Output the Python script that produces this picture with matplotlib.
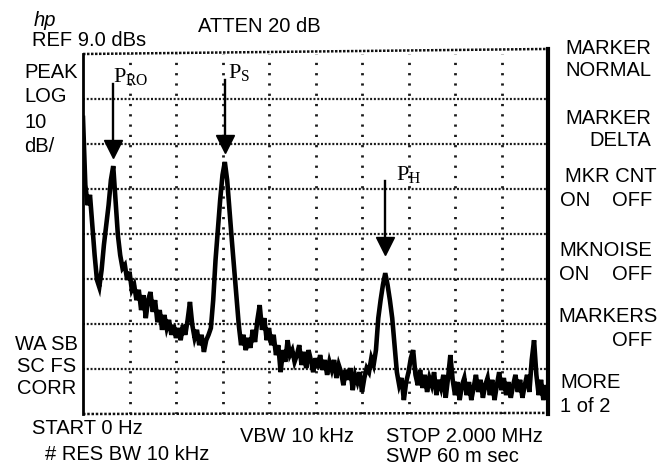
import numpy as np
import matplotlib.pyplot as plt

plt.rcParams['font.family'] = ['Liberation Sans', 'DejaVu Sans']

# analyzer settings shown on screen
START_MHZ = 0.0
STOP_MHZ = 2.0
REF_DB = 9.0
DB_PER_DIV = 10
N_XDIV = 10
N_YDIV = 8

# displayed trace (dB), one sample every 0.01 MHz from 0 to 2 MHz
level = [
    -5.2, -20.1, -24.6, -22.3, -29.0, -35.7, -41.2, -42.8, -39.0, -33.4,
    -29.0, -24.6, -19.0, -15.9, -23.4, -31.2, -35.7, -38.6, -37.9, -41.2,
    -39.4, -43.4, -42.3, -45.7, -43.4, -47.9, -44.6, -49.7, -45.7, -43.9,
    -48.3, -45.7, -50.6, -47.9, -52.3, -49.0, -51.9, -50.1, -53.4, -51.2,
    -54.1, -51.9, -54.6, -51.2, -53.4, -50.1, -46.1, -51.2, -54.1, -52.3,
    -55.7, -53.4, -57.2, -54.6, -53.4, -51.9, -45.7, -36.8, -30.1, -23.4,
    -17.9, -15.0, -19.0, -25.7, -32.3, -38.6, -44.6, -51.2, -55.7, -53.4,
    -56.8, -54.1, -56.3, -52.3, -55.0, -50.1, -46.8, -52.3, -49.7, -54.6,
    -51.9, -55.7, -53.4, -57.9, -55.7, -61.7, -56.8, -59.4, -54.6, -57.9,
    -56.8, -59.4, -57.9, -55.7, -60.1, -57.2, -60.8, -56.8, -59.0, -61.7,
    -58.6, -60.8, -57.9, -61.2, -59.0, -62.3, -59.4, -61.2, -59.0, -63.0,
    -60.1, -61.7, -64.6, -61.2, -63.4, -60.8, -65.7, -62.3, -63.9, -61.7,
    -66.1, -63.0, -60.8, -61.7, -58.6, -60.1, -56.8, -49.7, -45.7, -42.3,
    -39.7, -42.3, -45.7, -49.7, -55.7, -61.7, -64.6, -63.0, -67.9, -63.9,
    -61.7, -58.6, -56.8, -62.3, -64.6, -61.2, -65.2, -62.3, -66.1, -63.0,
    -64.6, -61.7, -66.8, -63.4, -65.2, -62.3, -67.4, -63.0, -57.9, -63.4,
    -66.8, -63.9, -67.9, -64.6, -63.0, -66.8, -63.9, -67.9, -65.2, -62.3,
    -66.1, -63.4, -67.4, -64.6, -63.0, -66.8, -63.4, -67.9, -64.6, -61.7,
    -65.7, -63.0, -66.8, -63.9, -67.4, -64.6, -62.3, -66.1, -63.4, -67.4,
    -64.6, -62.3, -66.1, -59.0, -54.6, -62.3, -66.8, -63.4, -67.9, -64.6,
    -66.8,
]

# peaks pointed at by the arrows
marker_freq = [0.13, 0.61, 1.30]
marker_label = [r'$\mathregular{P_{RO}}$', r'$\mathregular{P_{S}}$', r'$\mathregular{P_{H}}$']

freq = np.linspace(START_MHZ, STOP_MHZ, len(level))
level = np.array(level)
bottom_db = REF_DB - N_YDIV * DB_PER_DIV

W, H = 666, 472
fig = plt.figure(figsize=(W / 100, H / 100), dpi=100)
fig.patch.set_facecolor('white')

# graticule box in pixels: x 83..548, y 54..414
ax = fig.add_axes([83 / W, 1 - 414 / H, 465 / W, 360 / H])
ax.set_xlim(START_MHZ, STOP_MHZ)
ax.set_ylim(bottom_db, REF_DB)
ax.axis('off')

# dotted graticule
xstep = (STOP_MHZ - START_MHZ) / N_XDIV
for k in range(1, N_XDIV):
    ax.axvline(START_MHZ + k * xstep, color='#1a1a1a', lw=2.0,
               ls=(0, (0.8, 2.9)), zorder=1)
for k in range(1, N_YDIV):
    ax.axhline(REF_DB - k * DB_PER_DIV, color='#1a1a1a', lw=1.6,
               ls=(0, (0.9, 0.8)), zorder=1)

# frame: solid left/right, dotted top/bottom (top slightly tilted on the screen)
ax.plot([0, 1], [1, 1.014], transform=ax.transAxes, color='#111111', lw=1.8,
        ls=(0, (1, 0.6)), clip_on=False)
ax.plot([0, 1], [0, 0.003], transform=ax.transAxes, color='#111111', lw=1.8,
        ls=(0, (1, 0.7)), clip_on=False)
ax.plot([0, 0], [0, 1], transform=ax.transAxes, color='black', lw=2.0, clip_on=False)
ax.plot([1, 1], [0, 1.014], transform=ax.transAxes, color='black', lw=3.0, clip_on=False)

# trace
ax.plot(freq, level, color='black', lw=3.3, solid_joinstyle='miter', zorder=3)

# arrows + labels
gap = [2.0, 2.0, 4.2]
dx_lab = [0.0, 0.012, 0.045]
for f, lab, g, dx in zip(marker_freq, marker_label, gap, dx_lab):
    i = int(np.argmin(np.abs(freq - f)))
    tip = level[i] + g
    top = tip + 16.3
    ax.plot([freq[i], freq[i]], [top, tip + 2.5], color='black', lw=1.7,
            clip_on=False, zorder=4)
    ax.plot(freq[i], tip + 1.9, marker='v', ms=12.5, color='black',
            clip_on=False, zorder=4)
    ax.text(freq[i] + dx, top + 0.3, lab, fontsize=16, ha='left', va='baseline',
            family='Liberation Serif', zorder=5)


def px(x, y, s, **kw):
    kw.setdefault('fontsize', 14.5)
    kw.setdefault('va', 'center')
    fig.text(x / W, 1 - y / H, s, **kw)


# header
px(34, 20, 'hp', style='italic')
px(32, 41, 'REF 9.0 dBs')
px(198, 27, 'ATTEN 20 dB')

# left annotations
px(24, 72, 'PEAK')
px(24, 97, 'LOG')
px(24, 122, '10')
px(24, 146, 'dB/')
px(15, 344, 'WA SB')
px(17, 367, 'SC FS')
px(17, 389, 'CORR')

# softkeys on the right
px(565, 48, 'MARKER')
px(565, 71, 'NORMAL')
px(565, 118, 'MARKER')
px(651, 141, 'DELTA', ha='right')
px(565, 177, 'MKR CNT')
px(560, 201, 'ON')
px(652, 201, 'OFF', ha='right')
px(559, 251, 'MKNOISE')
px(559, 274, 'ON')
px(652, 274, 'OFF', ha='right')
px(558, 316, 'MARKERS')
px(652, 340, 'OFF', ha='right')
px(560, 382, 'MORE')
px(560, 406, '1 of 2')

# footer
px(32, 429, 'START 0 Hz')
px(45, 454, '# RES BW 10 kHz')
px(240, 436, 'VBW 10 kHz')
px(386, 436, 'STOP 2.000 MHz')
px(386, 456, 'SWP 60 m sec')

fig.savefig('out.png', dpi=100)
